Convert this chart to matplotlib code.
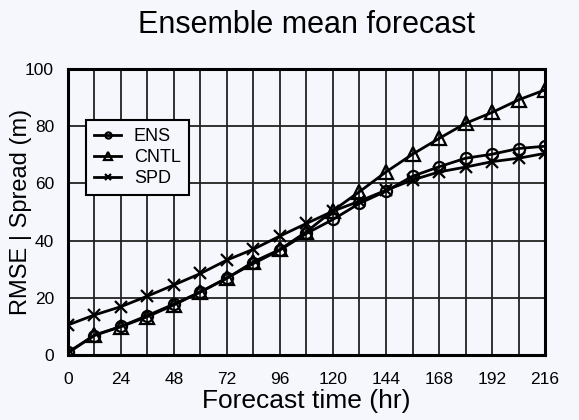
import numpy as np
import matplotlib.pyplot as plt

plt.rcParams['font.family'] = ['Liberation Sans', 'DejaVu Sans']

hours = list(range(0, 217, 12))
ens = [1, 6.8, 10, 13.8, 17.8, 22, 27, 32, 36.7, 42.5, 47.4, 53, 57.3, 62.5, 65.8, 68.8, 70.2, 72.2, 73]
cntl = [0.7, 7, 9.9, 13.4, 17.5, 22.1, 26.8, 32.6, 36.9, 43.1, 50.5, 57.1, 64, 70.2, 75.7, 81, 84.8, 89.2, 92.7]
spd = [10.5, 14, 16.9, 20.6, 24.5, 28.5, 33.2, 37, 41.6, 46, 50.3, 53.8, 57.6, 61.2, 64, 65.7, 67.6, 68.8, 70.5]

bg = '#f6f7fd'
fig = plt.figure(figsize=(5.79, 4.2), dpi=100, facecolor=bg)
ax = fig.add_axes([0.1174, 0.1548, 0.8239, 0.6809], facecolor=bg)

ax.plot(hours, ens, 'k-', lw=2, marker='o', ms=8, mfc='none', mew=1.6, label='ENS')
ax.plot(hours, cntl, 'k-', lw=2, marker='^', ms=9.5, mfc='none', mew=1.6, label='CNTL')
ax.plot(hours, spd, 'k-', lw=2, marker='x', ms=9, mew=1.6, label='SPD')

ax.set_xlim(0, 216)
ax.set_ylim(0, 100)
ax.set_xticks(range(0, 217, 24))
ax.set_xticks(range(0, 217, 12), minor=True)
ax.set_yticks(range(0, 101, 20))
ax.grid(True, which='both', color='#222222', lw=1.3)
ax.tick_params(which='both', length=0, labelsize=12.5)
ax.tick_params(axis='x', pad=12)
ax.tick_params(axis='y', pad=10)
for s in ax.spines.values():
    s.set_linewidth(2.2)

ax.set_title('Ensemble mean forecast', fontsize=22, pad=26)
ax.set_xlabel('Forecast time (hr)', fontsize=19, labelpad=2)
ax.set_ylabel('RMSE | Spread (m)', fontsize=17)
ax.yaxis.set_label_coords(-0.075, 0.5)

leg = ax.legend(loc='upper left', bbox_to_anchor=(0.0377, 0.8217), borderaxespad=0,
                fontsize=13, fancybox=False, edgecolor='k', facecolor=bg, framealpha=1,
                handlelength=1.5, handletextpad=0.7, borderpad=0.45, labelspacing=0.22,
                markerscale=0.55)
leg.get_frame().set_linewidth(1.5)

fig.savefig('out.png', dpi=100, facecolor=bg)
